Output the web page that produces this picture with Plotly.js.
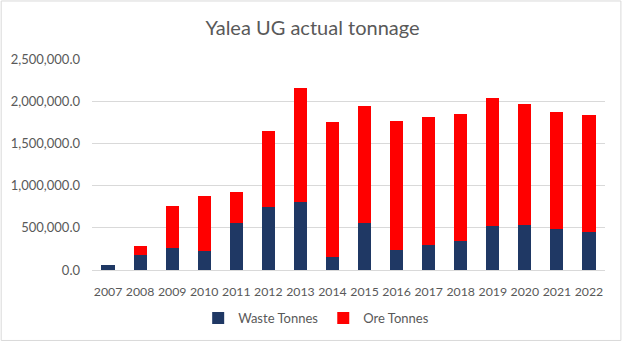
<!DOCTYPE html>
<html>
<head>
<meta charset="utf-8">
<script src="https://cdn.plot.ly/plotly-3.0.1.min.js"></script>
<style>
html,body{margin:0;padding:0;background:#fff;}
#chart{width:625px;height:345px;}
</style>
</head>
<body>
<div id="chart"></div>
<script>
var years = ["2007","2008","2009","2010","2011","2012","2013","2014","2015","2016","2017","2018","2019","2020","2021","2022"];
var wasteTonnes = [55000,177000,260000,221000,552000,741000,808000,150000,552000,233000,300000,343000,524000,536000,489000,453000];
var oreTonnes = [0,111000,493000,658000,367000,903000,1353000,1605000,1392000,1534000,1510000,1506000,1515000,1436000,1388000,1381000];
var yTicks = [0,500000,1000000,1500000,2000000,2500000];

var font = "Lato, 'Open Sans', sans-serif";
var data = [
  {type:'bar', name:'Waste Tonnes', x:years, y:wasteTonnes, marker:{color:'#1F3864'}},
  {type:'bar', name:'Ore Tonnes', x:years, y:oreTonnes, marker:{color:'#FF0000'}}
];
var layout = {
  width:625, height:345,
  barmode:'stack', bargap:0.59,
  margin:{l:92, r:20, t:59, b:75, pad:0},
  paper_bgcolor:'#fff', plot_bgcolor:'#fff',
  font:{family:font, color:'#595959', size:13},
  title:{text:'Yalea UG actual tonnage', font:{family:font, size:20, color:'#595959'}, xref:'container', x:0.5, xanchor:'center', yref:'container', y:0.918, yanchor:'middle'},
  xaxis:{type:'category', showgrid:false, showline:true, linecolor:'#d9d9d9', linewidth:1, ticks:'', tickangle:0, ticklabelstandoff:10, tickfont:{size:12.3, color:'#595959'}},
  yaxis:{range:[0,2500000], tickvals:yTicks, tickformat:',.1f', showgrid:true, gridcolor:'#d9d9d9', gridwidth:1, zeroline:false, showline:false, ticks:'', ticklabelstandoff:11, tickfont:{size:13, color:'#595959'}},
  showlegend:true,
  legend:{orientation:'h', x:0.437, xanchor:'center', y:-0.228, yanchor:'middle', font:{size:13, color:'#595959'}, itemwidth:30, traceorder:'normal'},
  shapes:[{type:'rect', xref:'paper', yref:'paper', x0:-0.177, x1:1.031, y0:-0.334, y1:1.275, line:{color:'#d9d9d9', width:1}, fillcolor:'rgba(0,0,0,0)', layer:'below'}]
};
Plotly.newPlot('chart', data, layout, {displayModeBar:false, staticPlot:true});
</script>
</body>
</html>
